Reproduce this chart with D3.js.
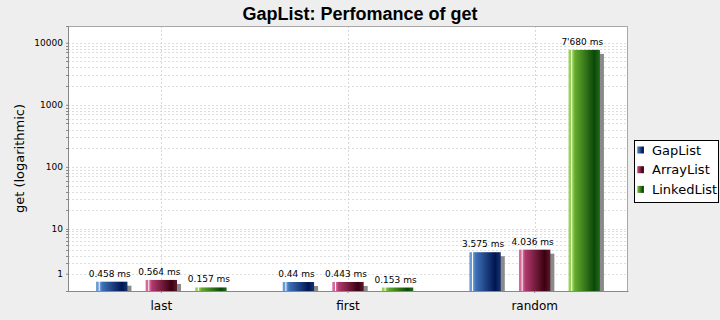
<!DOCTYPE html>
<html>
<head>
<meta charset="utf-8">
<script src="https://cdn.jsdelivr.net/npm/d3@7"></script>
<style>
  body { margin: 0; background: #eeeeee; }
  .chart text { font-family: "DejaVu Sans", sans-serif; fill: #000; }
</style>
</head>
<body>
<div class="chart"></div>
<script>
// Data (milliseconds)
const categories = ['last', 'first', 'random']
const seriesNames = ['GapList', 'ArrayList', 'LinkedList']
const gapList = [0.458, 0.44, 3.575]
const arrayList = [0.564, 0.443, 4.036]
const linkedList = [0.157, 0.153, 7680]
const yTickValues = [1, 10, 100, 1000, 10000]
const yTickLabels = ['1', '10', '100', '1000', '10000']

const seriesValues = [gapList, arrayList, linkedList]

// gradient colours per series: light, medium, dark, right edge
const palette = [
  ['#6b9ad6', '#3f71b6', '#001652', '#16346c'],
  ['#d46a9a', '#b0396d', '#3b0010', '#5c1a2e'],
  ['#98d25a', '#66ab2e', '#0a4808', '#226a1b']
]

const width = 720
const height = 320
const plot = { left: 68, right: 628, top: 26, bottom: 291 }

// JFreeChart style "adjusted" log: values below 10 are squeezed so 0 maps to 0
const adjLog = v => Math.log10(v < 10 ? v + (10 - v) / 10 : v)

const svg = d3.select('.chart')
  .append('svg')
  .attr('width', width)
  .attr('height', height)

const defs = svg.append('defs')
palette.forEach((c, i) => {
  const g = defs.append('linearGradient')
    .attr('id', 'grad' + i)
    .attr('x1', 0).attr('x2', 1).attr('y1', 0).attr('y2', 0)
  const stops = [[0, c[0]], [0.07, c[0]], [0.10, '#ffffff'], [0.13, c[0]], [0.2, c[1]], [0.82, c[2]], [1, c[3]]]
  stops.forEach(s => g.append('stop').attr('offset', s[0]).attr('stop-color', s[1]))
})
defs.append('clipPath').attr('id', 'plotClip')
  .append('rect')
  .attr('x', plot.left).attr('y', plot.top)
  .attr('width', plot.right - plot.left).attr('height', plot.bottom - plot.top)

// Scales
const xScale = d3.scaleBand()
  .domain(categories)
  .range([plot.left, plot.right])

const xInner = d3.scaleBand()
  .domain(seriesNames)
  .range([0, xScale.bandwidth()])
  .paddingInner(0.367)
  .paddingOuter(0.566)

const yLin = d3.scaleLinear()
  .domain([0, 4.27])
  .range([plot.bottom, plot.top])
const yScale = v => yLin(adjLog(v))

// Plot background
svg.append('rect')
  .attr('x', plot.left).attr('y', plot.top)
  .attr('width', plot.right - plot.left).attr('height', plot.bottom - plot.top)
  .attr('fill', '#fff')

// Minor + major gridlines (log decades)
const gridValues = []
yTickValues.forEach(d => {
  for (let k = 1; k < 10; k++) gridValues.push(d * k)
})
const gridG = svg.append('g').attr('clip-path', 'url(#plotClip)')
gridG.selectAll('line.hgrid')
  .data(gridValues.filter(v => yScale(v) > plot.top))
  .enter()
  .append('line')
  .attr('x1', plot.left).attr('x2', plot.right)
  .attr('y1', d => Math.round(yScale(d)) + 0.5)
  .attr('y2', d => Math.round(yScale(d)) + 0.5)
  .attr('stroke', '#dedede')
  .attr('stroke-dasharray', '2,2')

gridG.selectAll('line.vgrid')
  .data(categories)
  .enter()
  .append('line')
  .attr('x1', d => Math.round(xScale(d) + xScale.bandwidth() / 2) + 0.5)
  .attr('x2', d => Math.round(xScale(d) + xScale.bandwidth() / 2) + 0.5)
  .attr('y1', plot.top).attr('y2', plot.bottom)
  .attr('stroke', '#d8d8d8')
  .attr('stroke-dasharray', '2,2')

// Bars
const barData = []
categories.forEach((c, ci) => {
  seriesNames.forEach((s, si) => {
    barData.push({ cat: c, series: s, si: si, value: seriesValues[si][ci] })
  })
})

const barsG = svg.append('g').attr('clip-path', 'url(#plotClip)')
const bw = xInner.bandwidth()

// shadows
barsG.selectAll('rect.shadow')
  .data(barData)
  .enter()
  .append('rect')
  .attr('x', d => xScale(d.cat) + xInner(d.series) + 4)
  .attr('y', d => yScale(d.value) + 4)
  .attr('width', bw)
  .attr('height', d => plot.bottom - yScale(d.value))
  .attr('fill', '#8a8a8a')

barsG.selectAll('rect.bar')
  .data(barData)
  .enter()
  .append('rect')
  .attr('x', d => xScale(d.cat) + xInner(d.series))
  .attr('y', d => yScale(d.value))
  .attr('width', bw)
  .attr('height', d => plot.bottom - yScale(d.value))
  .attr('fill', d => `url(#grad${d.si})`)

// Value labels
const swiss = d3.formatLocale({ decimal: '.', thousands: "'", grouping: [3], currency: ['', ''] })
const fmt = swiss.format(',.4~g')

svg.append('g').selectAll('text')
  .data(barData)
  .enter()
  .append('text')
  .attr('x', d => xScale(d.cat) + xInner(d.series) + bw / 2 - 2)
  .attr('y', d => yScale(d.value) - 5)
  .attr('text-anchor', 'middle')
  .style('font-size', '9px')
  .text(d => fmt(d.value) + ' ms')

// Plot outline
svg.append('rect')
  .attr('x', plot.left + 0.5).attr('y', plot.top + 0.5)
  .attr('width', plot.right - plot.left - 1).attr('height', plot.bottom - plot.top)
  .attr('fill', 'none')
  .attr('stroke', '#a8a8a8')

// Y axis
const yAxisG = svg.append('g')
  .attr('transform', `translate(${plot.left}, 0)`)
  .call(d3.axisLeft(yLin)
    .tickValues(yTickValues.map(adjLog))
    .tickFormat((d, i) => yTickLabels[i])
    .tickSize(2)
    .tickPadding(3))
yAxisG.select('.domain').attr('stroke', '#888')
yAxisG.selectAll('.tick line').attr('stroke', '#888')
yAxisG.selectAll('.tick text').style('font-size', '9px').attr('font-family', null)

// minor tick marks on y axis
svg.append('g').selectAll('line')
  .data(gridValues.filter(v => yScale(v) > plot.top && yTickValues.indexOf(v) < 0))
  .enter()
  .append('line')
  .attr('x1', plot.left - 2).attr('x2', plot.left)
  .attr('y1', d => Math.round(yScale(d)) + 0.5)
  .attr('y2', d => Math.round(yScale(d)) + 0.5)
  .attr('stroke', '#888')

// X axis
const xAxisG = svg.append('g')
  .attr('transform', `translate(0, ${plot.bottom})`)
  .call(d3.axisBottom(xScale).tickSize(2).tickPadding(8).tickSizeOuter(0))
xAxisG.select('.domain').attr('stroke', '#888')
xAxisG.selectAll('.tick line').attr('stroke', '#888')
xAxisG.selectAll('.tick text').style('font-size', '12px').attr('font-family', null)

// Title
svg.append('text')
  .attr('x', width / 2)
  .attr('y', 20)
  .attr('text-anchor', 'middle')
  .style('font-family', '"Liberation Sans", Arial, sans-serif')
  .style('font-weight', 'bold')
  .style('font-size', '18px')
  .text('GapList: Perfomance of get')

// Y axis title
svg.append('text')
  .attr('transform', 'rotate(-90)')
  .attr('x', -(plot.top + plot.bottom) / 2)
  .attr('y', 24)
  .attr('text-anchor', 'middle')
  .style('font-size', '13px')
  .text('get (logarithmic)')

// Legend
const legend = svg.append('g').attr('transform', 'translate(634, 140)')
legend.append('rect')
  .attr('x', 0.5).attr('y', 0.5)
  .attr('width', 84).attr('height', 62)
  .attr('fill', '#fff')
  .attr('stroke', '#000')

const legendItems = legend.selectAll('g.item')
  .data(seriesNames)
  .enter()
  .append('g')
  .attr('transform', (d, i) => `translate(3, ${10 + i * 19.7})`)

legendItems.append('rect')
  .attr('x', 0).attr('y', -3.5)
  .attr('width', 7).attr('height', 7)
  .attr('fill', (d, i) => `url(#grad${i})`)

legendItems.append('text')
  .attr('x', 15)
  .attr('y', 4.5)
  .style('font-size', '13px')
  .text(d => d)
</script>
</body>
</html>
